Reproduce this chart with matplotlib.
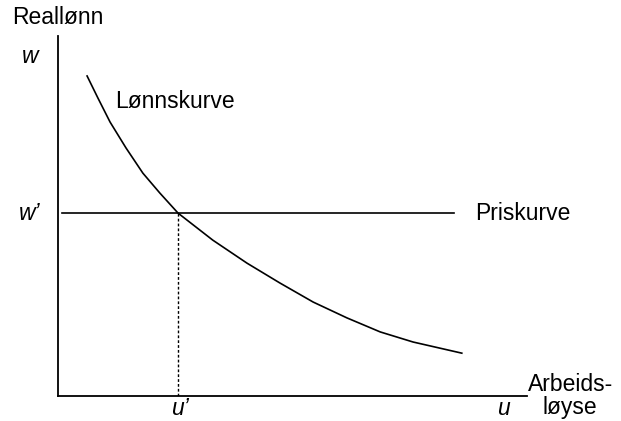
import matplotlib
matplotlib.use("Agg")
import matplotlib.pyplot as plt

plt.rcParams['font.family'] = ['Liberation Sans', 'DejaVu Sans']

# Lønnskurve (lest av figuren)
lonn_x = [0.62, 0.85, 1.11, 1.45, 1.81, 2.17, 2.56, 3.30, 4.03, 4.73, 5.44, 6.16, 6.87, 7.57, 8.61]
lonn_y = [8.89, 8.28, 7.61, 6.89, 6.19, 5.64, 5.08, 4.33, 3.69, 3.14, 2.61, 2.17, 1.78, 1.50, 1.19]

# Priskurve
pris_x = [0.09, 8.44]
pris_y = [5.08, 5.08]

# likevekt
u_lik = 2.56
w_lik = 5.08

fig = plt.figure(figsize=(6.21, 4.21), dpi=100)
ax = fig.add_axes([58 / 621, 25 / 421, 469 / 621, 360 / 421])
ax.set_xlim(0, 10)
ax.set_ylim(0, 10)

ax.plot(lonn_x, lonn_y, color='black', lw=1.2, solid_joinstyle='round')
ax.plot(pris_x, pris_y, color='black', lw=1.2)
ax.plot([u_lik, u_lik], [0, w_lik], color='black', lw=1.0, ls=(0, (2, 1.5)))

for s in ['top', 'right']:
    ax.spines[s].set_visible(False)
for s in ['left', 'bottom']:
    ax.spines[s].set_linewidth(1.3)
ax.set_xticks([])
ax.set_yticks([])

fs = 16.5
ax.text(-0.98, 10.5, 'Reallønn', fontsize=fs, ha='left', va='center', clip_on=False)
ax.text(-0.6, 9.42, 'w', fontsize=fs, style='italic', ha='center', va='center', clip_on=False)
ax.text(-0.6, 5.06, "w’", fontsize=fs, style='italic', ha='center', va='center', clip_on=False)
ax.text(2.6, -0.35, "u’", fontsize=fs, style='italic', ha='center', va='center', clip_on=False)
ax.text(9.49, -0.35, 'u', fontsize=fs, style='italic', ha='center', va='center', clip_on=False)
ax.text(10.92, 0.0, 'Arbeids-\nløyse', fontsize=fs, ha='center', va='center',
        multialignment='center', linespacing=1.0, clip_on=False)
ax.text(8.89, 5.06, 'Priskurve', fontsize=fs, ha='left', va='center', clip_on=False)
ax.text(1.22, 8.19, 'Lønnskurve', fontsize=fs, ha='left', va='center', clip_on=False)

fig.savefig('out.png', dpi=100)
